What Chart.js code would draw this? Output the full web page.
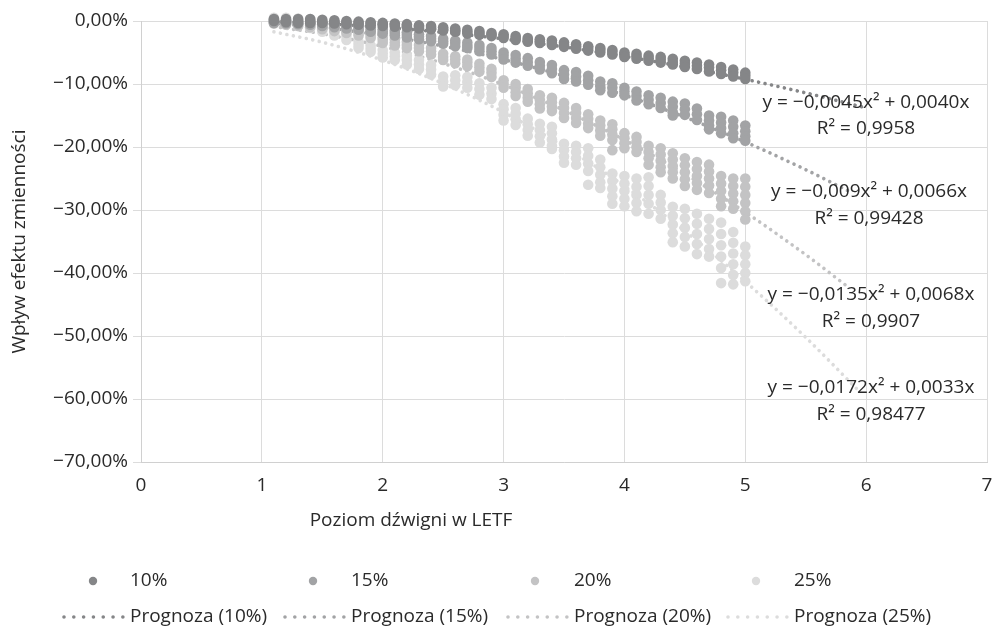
<!DOCTYPE html>
<html><head><meta charset="utf-8">
<script src="https://cdn.jsdelivr.net/npm/chart.js@4/dist/chart.umd.min.js"></script>
<style>html,body{margin:0;padding:0;background:#fff;}#wrap{width:995px;height:635px;position:relative;}</style>
</head><body><div id="wrap"><canvas id="c" width="995" height="635"></canvas></div>
<script>
// ---- DATA (values in %) ----
const xColumns = [1.1,1.2,1.3,1.4,1.5,1.6,1.7,1.8,1.9,2.0,2.1,2.2,2.3,2.4,2.5,2.6,2.7,2.8,2.9,3.0,3.1,3.2,3.3,3.4,3.5,3.6,3.7,3.8,3.9,4.0,4.1,4.2,4.3,4.4,4.5,4.6,4.7,4.8,4.9,5.0];
const vol10 = [[0.3,0.0],[0.3,0.0,-0.2],[0.3,0.0,-0.3],[0.3,0.0,-0.3],[0.2,-0.1,-0.3],[0.1,-0.2,-0.4],[0.0,-0.2,-0.5],[-0.1,-0.3,-0.6],[-0.2,-0.4,-0.7],[-0.3,-0.5,-0.8],
[-0.4,-0.6,-0.9],[-0.5,-0.8,-1.0],[-0.7,-0.9,-1.2],[-0.8,-1.1,-1.3],[-1.0,-1.3,-1.5],[-1.2,-1.5,-1.7],[-1.4,-1.7,-2.0],[-1.6,-1.9,-2.2],[-1.9,-2.2,-2.4],[-2.1,-2.4,-2.7],
[-2.4,-2.7,-3.0],[-2.7,-3.0,-3.3],[-2.9,-3.2,-3.5],[-3.1,-3.5,-3.8],[-3.4,-3.8,-4.1],[-3.7,-4.0,-4.4],[-4.0,-4.3,-4.7],[-4.3,-4.6,-5.0],[-4.6,-4.9,-5.3],[-5.0,-5.3,-5.7],
[-5.2,-5.6,-6.0],[-5.5,-5.9,-6.3],[-5.7,-6.1,-6.6],[-6.0,-6.5,-6.9],[-6.3,-6.8,-7.3],[-6.6,-7.1,-7.6],[-6.9,-7.4,-8.0],[-7.3,-7.8,-8.4],[-7.7,-8.2,-8.8],[-8.2,-8.7,-9.2]];
const vol15 = [[0.2,-0.1,-0.3],[0.1,-0.2,-0.4],[0.0,-0.3,-0.5],[-0.1,-0.4,-0.6],[-0.2,-0.5,-0.8],[-0.4,-0.7,-1.0],[-0.6,-0.9,-1.2],[-0.8,-1.1,-1.4],[-1.0,-1.4,-1.7],[-1.3,-1.7,-2.0],
[-1.5,-1.9,-2.3],[-1.8,-2.2,-2.6],[-2.1,-2.5,-2.9],[-2.4,-2.8,-3.2],[-2.8,-3.2,-3.6],[-3.1,-3.5,-4.0],[-3.4,-3.9,-4.3],[-3.8,-4.3,-4.8],[-4.3,-4.8,-5.3],[-5.0,-5.5,-6.1],
[-5.4,-6.0,-6.6],[-5.9,-6.5,-7.1],[-6.5,-7.1,-7.7],[-7.0,-7.6,-8.3],[-7.8,-8.5,-9.2],[-8.1,-8.8,-9.6],[-8.7,-9.4,-10.1],[-9.6,-10.3,-11.0],[-9.9,-10.6,-11.4],[-10.6,-11.2,-11.8],
[-11.2,-11.9,-12.6],[-11.8,-12.5,-13.2],[-12.2,-13.0,-13.8],[-12.8,-13.6,-14.5,-15.0],[-13.1,-14.0,-14.9],[-13.9,-14.8,-15.7],[-15.0,-15.8,-16.6,-17.2],[-15.2,-16.1,-17.0,-17.8],[-15.8,-16.8,-17.8,-18.6],[-16.6,-17.5,-18.3,-19.0]];
const vol20 = [[0.3,-0.1,-0.4],[0.1,-0.3,-0.6],[-0.1,-0.5,-0.8],[-0.3,-0.7,-1.0],[-0.5,-0.9,-1.3],[-0.8,-1.2,-1.6],[-1.1,-1.5,-1.9],[-1.5,-1.9,-2.3],[-1.9,-2.3,-2.7],[-2.6,-3.0,-3.5],
[-2.9,-3.4,-3.9],[-3.3,-3.8,-4.3],[-3.8,-4.3,-4.8],[-4.3,-4.8,-5.3],[-5.2,-5.7,-6.2],[-5.6,-6.1,-6.7],[-6.1,-6.6,-7.2],[-6.8,-7.4,-8.0],[-7.6,-8.2,-8.9],[-9.4,-10.0,-10.6],
[-10.0,-10.6,-11.3,-11.9],[-10.8,-11.5,-12.2,-12.8],[-11.8,-12.5,-13.2,-13.9],[-12.2,-12.9,-13.6,-14.3],[-13.0,-13.8,-14.6,-15.4],[-13.8,-14.6,-15.4,-16.2],[-14.8,-15.5,-16.3,-17.0],[-15.8,-16.6,-17.4,-18.2],[-16.4,-17.2,-18.0,-18.9,-20.5],[-17.8,-18.6,-19.4,-20.2],
[-18.4,-19.2,-20.0,-20.8],[-19.8,-20.8,-21.8,-22.8],[-20.2,-21.2,-22.2,-23.2,-24.0],[-21.0,-22.0,-23.0,-24.0,-25.0],[-21.8,-22.9,-24.0,-25.1,-26.2],[-22.4,-23.5,-24.6,-25.7,-26.8],[-22.8,-23.9,-25.0,-26.1,-27.3],[-24.6,-25.8,-27.0,-28.2,-29.4],[-25.0,-26.2,-27.4,-28.6,-29.8],[-25.0,-26.3,-27.6,-28.9,-30.2,-31.5]];
const vol25 = [[0.5,0.1,-0.3],[0.5,0.0,-0.5],[0.4,-0.2,-0.8],[0.3,-0.4,-1.1],[-0.6,-1.2,-1.7],[-1.1,-1.7,-2.3],[-1.8,-2.4,-3.0],[-3.3,-3.8,-4.3],[-3.9,-4.4,-4.9],[-4.6,-5.2,-5.8],
[-5.0,-5.6,-6.2],[-5.5,-6.2,-6.9],[-6.2,-6.9,-7.6],[-7.0,-7.7,-8.5],[-8.8,-9.6,-10.4],[-8.6,-9.4,-10.2],[-8.9,-9.7,-10.6],[-9.9,-10.8,-11.7],[-10.6,-11.5,-12.4],[-13.2,-14.0,-14.9,-15.8],
[-13.8,-14.7,-15.6,-16.5],[-15.5,-16.4,-17.3,-18.2],[-16.3,-17.3,-18.3,-19.3],[-16.8,-17.8,-18.8,-19.8,-20.3],[-19.5,-20.5,-21.5,-22.5],[-19.8,-20.8,-21.8,-22.8],[-20.2,-21.4,-22.6,-23.8,-26.0],[-22.0,-23.2,-24.4,-25.6,-26.5],[-24.2,-25.4,-26.6,-27.8,-29.0],[-24.6,-25.8,-27.0,-28.2,-29.4],
[-25.0,-26.3,-27.6,-28.9,-30.2],[-24.8,-26.2,-27.6,-29.0,-30.6],[-27.6,-28.8,-30.0,-31.4],[-29.5,-30.9,-32.3,-33.7,-35.1],[-29.8,-31.3,-32.8,-34.3,-35.8],[-30.6,-32.2,-33.8,-35.4,-37.0],[-31.4,-33.0,-34.6,-36.2,-37.4],[-32.0,-33.8,-35.6,-37.4,-39.2,-41.6],[-33.5,-35.2,-36.9,-38.6,-40.3,-41.8],[-35.8,-37.2,-38.6,-40.0,-41.3]];

const trend10X = [1.1,1.5,2,2.5,3,3.5,4,4.5,5,5.5,6.0];
const trend10Y = [-0.10,-0.41,-1.00,-1.81,-2.85,-4.11,-5.60,-7.31,-9.25,-11.41,-13.80];
const trend15X = [1.1,1.5,2,2.5,3,3.5,4,4.5,5,5.5,5.85];
const trend15Y = [-0.36,-1.04,-2.28,-3.98,-6.12,-8.72,-11.76,-15.26,-19.20,-23.60,-26.94];
const trend20X = [1.1,1.5,2,2.5,3,3.5,4,4.5,5,5.5,5.85];
const trend20Y = [-0.89,-2.02,-4.04,-6.74,-10.11,-14.16,-18.88,-24.28,-30.35,-37.10,-42.22];
const trend25X = [1.1,1.5,2,2.5,3,3.5,4,4.5,5,5.5,5.95];
const trend25Y = [-1.72,-3.37,-6.22,-9.93,-14.49,-19.92,-26.20,-33.34,-41.35,-50.22,-58.93];

const seriesNames = ['10%','15%','20%','25%'];
const forecastNames = ['Prognoza (10%)','Prognoza (15%)','Prognoza (20%)','Prognoza (25%)'];
const equationTexts = ['y = −0,0045x² + 0,0040x','y = −0,009x² + 0,0066x','y = −0,0135x² + 0,0068x','y = −0,0172x² + 0,0033x'];
const r2Texts = ['R² = 0,9958','R² = 0,99428','R² = 0,9907','R² = 0,98477'];
const yTicks = [0,-10,-20,-30,-40,-50,-60,-70];
const xTicks = [0,1,2,3,4,5,6,7];

// ---- STYLE ----
const colors = ['#858688','#a2a3a5','#c3c3c4','#dcdcdc'];
const FONT = "'Open Sans', sans-serif";
const TXT = '#2a2a2a';

const volData = [vol10, vol15, vol20, vol25];
const trendXs = [trend10X, trend15X, trend20X, trend25X];
const trendYs = [trend10Y, trend15Y, trend20Y, trend25Y];

const datasets = [];
volData.forEach((cols, s) => {
  const pts = [];
  cols.forEach((vals, i) => vals.forEach(v => pts.push({x: xColumns[i], y: v})));
  datasets.push({type:'scatter', label: seriesNames[s], data: pts, pointRadius: 5.3, pointHoverRadius: 5.3,
    pointBackgroundColor: colors[s], pointBorderWidth: 0, borderColor: colors[s], showLine:false, clip:false, order: 1});
});
trendXs.forEach((xs, s) => {
  datasets.push({type:'line', label: forecastNames[s], data: xs.map((x,i)=>({x, y: trendYs[s][i]})),
    borderColor: colors[s], borderWidth: 3.6, borderDash:[0.01, 6.6], borderCapStyle:'round', pointRadius:0,
    cubicInterpolationMode:'monotone', fill:false, clip:false, order: 2});
});

const overlay = {
  id:'overlay',
  afterDraw(chart){
    const ctx = chart.ctx;
    ctx.save();
    ctx.fillStyle = TXT;
    ctx.font = `19px ${FONT}`;
    ctx.textAlign = 'center'; ctx.textBaseline = 'middle';
    const eqPos = [[866,103,129],[869,192,219],[871,295,322],[871,388,415]];
    eqPos.forEach((p,i)=>{ ctx.fillText(equationTexts[i], p[0], p[1]); ctx.fillText(r2Texts[i], p[0], p[2]); });
    ctx.fillText('Poziom dźwigni w LETF', 411, 521);
    ctx.textAlign = 'left';
    const dotX = [93,313,535,756], txtX = [130,351,574,794];
    for (let i=0;i<4;i++){
      ctx.fillStyle = colors[i];
      ctx.beginPath(); ctx.arc(dotX[i], 581, 4.2, 0, Math.PI*2); ctx.fill();
      ctx.fillStyle = TXT; ctx.fillText(seriesNames[i], txtX[i], 581);
      ctx.strokeStyle = colors[i]; ctx.lineWidth = 3.6; ctx.lineCap='round'; ctx.setLineDash([0.01, 9.8]);
      ctx.beginPath(); ctx.moveTo(txtX[i]-66, 617); ctx.lineTo(txtX[i]-5, 617); ctx.stroke();
      ctx.setLineDash([]);
      ctx.fillStyle = TXT; ctx.fillText(forecastNames[i], txtX[i], 617);
    }
    ctx.restore();
  }
};

const fmtY = v => v === 0 ? '0,00%' : (v < 0 ? '−' : '') + Math.abs(v).toFixed(2).replace('.', ',') + '%';

new Chart(document.getElementById('c'), {
  data: { datasets },
  options: {
    responsive:false, animation:false, devicePixelRatio:1,
    layout:{ padding:{ left:0, right:8, top:21, bottom:93 } },
    plugins:{ legend:{display:false}, tooltip:{enabled:false} },
    scales:{
      x:{ type:'linear', min:0, max:7,
        afterBuildTicks: s => { s.ticks = xTicks.map(v=>({value:v})); },
        afterFit: s => { s.height = 80; s.paddingRight = 0; s.paddingLeft = 0; },
        grid:{ color:'#dcdcdc', lineWidth:1, drawTicks:false },
        border:{ color:'#d0d0d0' },
        ticks:{ color:TXT, font:{family:FONT, size:19}, padding:12, callback: v => String(v) } },
      y:{ type:'linear', min:-70, max:0,
        afterBuildTicks: s => { s.ticks = yTicks.map(v=>({value:v})); },
        afterFit: s => { s.width = 141; },
        grid:{ color:'#dcdcdc', lineWidth:1, tickLength:8 },
        border:{ color:'#d0d0d0' },
        ticks:{ color:TXT, font:{family:FONT, size:19}, padding:5, callback: fmtY },
        title:{ display:true, text:'Wpływ efektu zmienności', color:TXT, font:{family:FONT, size:19}, padding:{top:8,bottom:0} } }
    }
  },
  plugins:[overlay]
});
</script></body></html>
